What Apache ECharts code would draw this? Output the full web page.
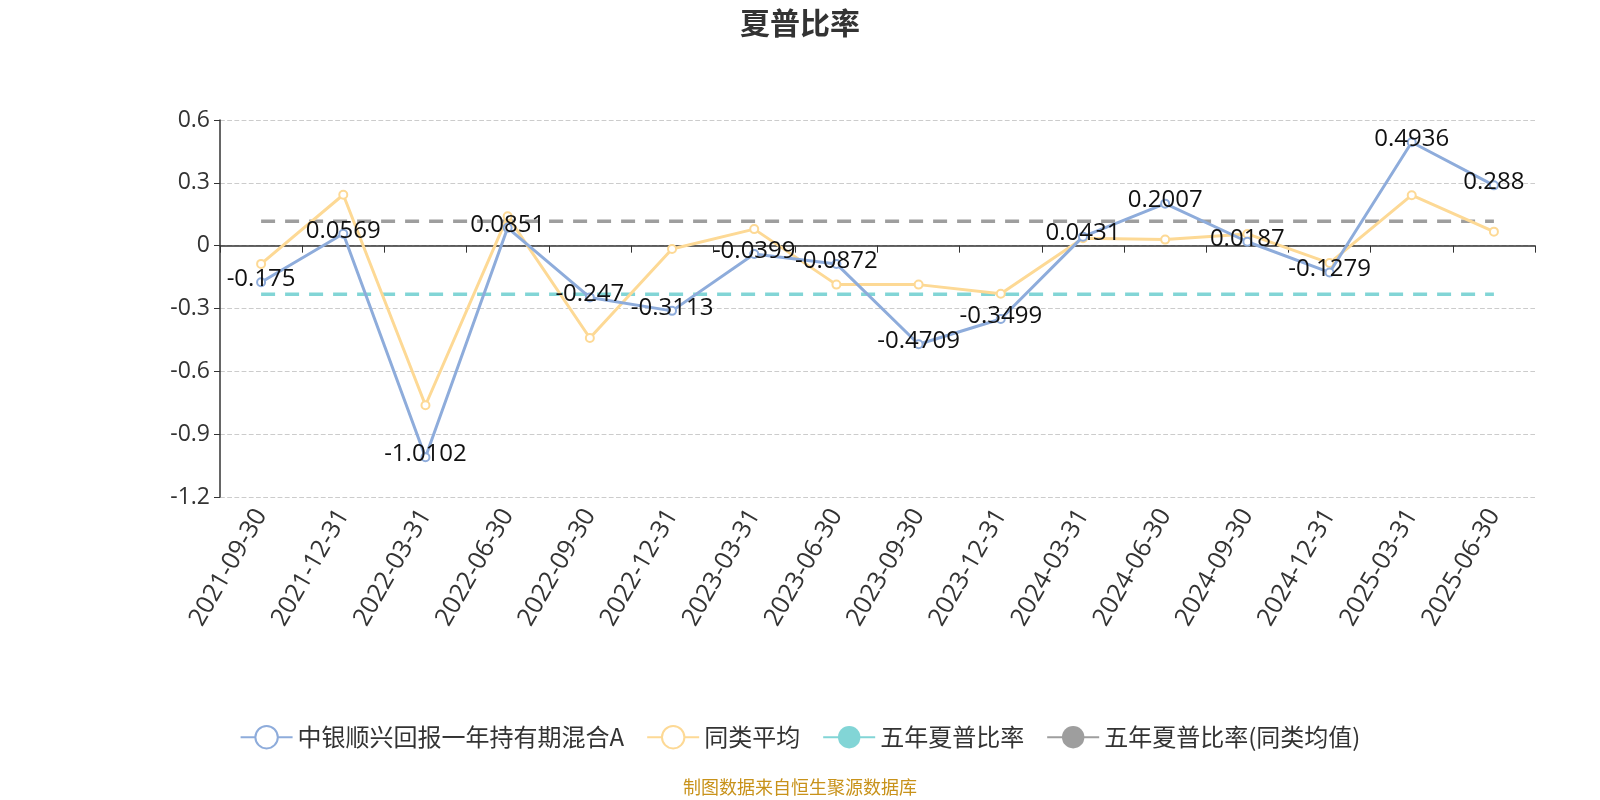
<!DOCTYPE html>
<html>
<head>
<meta charset="utf-8">
<script src="https://cdn.jsdelivr.net/npm/echarts@6/dist/echarts.min.js"></script>
<style>html,body{margin:0;padding:0;background:#fff}#c{width:1600px;height:800px}</style>
</head>
<body>
<div id="c"></div>
<script>
var categories = ['2021-09-30','2021-12-31','2022-03-31','2022-06-30','2022-09-30','2022-12-31','2023-03-31','2023-06-30','2023-09-30','2023-12-31','2024-03-31','2024-06-30','2024-09-30','2024-12-31','2025-03-31','2025-06-30'];
var fundValues = [-0.175, 0.0569, -1.0102, 0.0851, -0.247, -0.3113, -0.0399, -0.0872, -0.4709, -0.3499, 0.0431, 0.2007, 0.0187, -0.1279, 0.4936, 0.288];
var peerAvgValues = [-0.087, 0.243, -0.762, 0.140, -0.441, -0.016, 0.079, -0.186, -0.186, -0.230, 0.035, 0.029, 0.056, -0.083, 0.241, 0.067];
var fiveYearSharpe = -0.232;
var fiveYearSharpePeer = 0.117;
var yTicks = {min: -1.2, max: 0.6, interval: 0.3};

var chart = echarts.init(document.getElementById('c'));
var fontFam = '"Open Sans","Noto Sans CJK SC",sans-serif';
var cjkFam = '"Noto Sans CJK SC","Open Sans",sans-serif';
chart.setOption({
  backgroundColor: '#fff',
  textStyle: {fontFamily: fontFam},
  title: {text: '夏普比率', left: 'center', top: 3, textStyle: {fontSize: 30, fontWeight: 'bold', color: '#333', fontFamily: cjkFam}},
  legend: {
    top: 720, left: 'center', itemWidth: 52, itemHeight: 28, itemGap: 22,
    textStyle: {fontSize: 24, color: '#333', fontFamily: cjkFam},
    lineStyle: {type: 'solid'},
    data: ['中银顺兴回报一年持有期混合A','同类平均','五年夏普比率','五年夏普比率(同类均值)']
  },
  graphic: [{type: 'text', left: 'center', top: 778, style: {text: '制图数据来自恒生聚源数据库', fontSize: 18, fill: '#c8921a', fontFamily: cjkFam}}],
  grid: {left: 220, right: 65, top: 120, bottom: 303},
  xAxis: [{
    type: 'category', data: categories, position: 'bottom',
    axisLine: {show: false, onZero: false}, axisTick: {show: false},
    axisLabel: {rotate: 60, fontSize: 25, color: '#333', margin: 14, interval: 0}
  }, {
    type: 'category', data: categories, position: 'bottom',
    axisLine: {show: true, onZero: true, lineStyle: {color: '#333', width: 1.5}},
    axisTick: {show: true, length: 7, lineStyle: {color: '#333'}},
    axisLabel: {show: false}
  }],
  yAxis: {
    type: 'value', min: yTicks.min, max: yTicks.max, interval: yTicks.interval,
    axisLine: {show: true, lineStyle: {color: '#333', width: 1.5}},
    axisTick: {show: true, length: 6},
    axisLabel: {fontSize: 23, color: '#333', margin: 10},
    splitLine: {lineStyle: {type: 'dashed', color: '#ccc', width: 1.2}}
  },
  series: [{
    name: '中银顺兴回报一年持有期混合A', type: 'line', data: fundValues,
    symbol: 'emptyCircle', symbolSize: 8, z: 3,
    itemStyle: {color: '#8eacdb'}, lineStyle: {width: 3, color: '#8eacdb'},
    label: {show: true, position: 'inside', offset: [0, -3], fontSize: 24, color: '#111'}
  }, {
    name: '同类平均', type: 'line', data: peerAvgValues,
    symbol: 'emptyCircle', symbolSize: 8, z: 2,
    itemStyle: {color: '#fdd995'}, lineStyle: {width: 3, color: '#fdd995'}
  }, {
    name: '五年夏普比率', type: 'line', data: categories.map(function(){return fiveYearSharpe;}),
    symbol: 'circle', showSymbol: false, z: 1,
    itemStyle: {color: '#82d5d6'}, lineStyle: {width: 3.5, type: [14, 10], color: '#82d5d6'}
  }, {
    name: '五年夏普比率(同类均值)', type: 'line', data: categories.map(function(){return fiveYearSharpePeer;}),
    symbol: 'circle', showSymbol: false, z: 1,
    itemStyle: {color: '#9e9e9e'}, lineStyle: {width: 3.5, type: [14, 10], color: '#9e9e9e'}
  }]
});
</script>
</body>
</html>
